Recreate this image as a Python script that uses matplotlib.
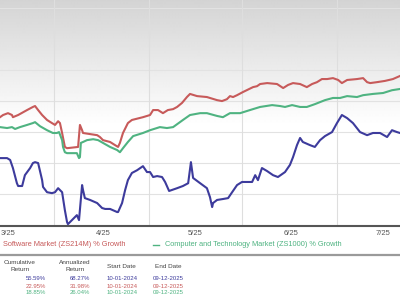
import numpy as np
import matplotlib
matplotlib.use("Agg")
import matplotlib.pyplot as plt

plt.rcParams['font.family'] = ['Liberation Sans', 'DejaVu Sans']

# ---- data (x = days since 1 Mar 2025, y = % growth) ----
red_days = [-2.6,-1.6,0,1.3,1.6,3.3,6.2,8.1,8.8,9.8,11.1,12.7,14.3,15.3,16.3,16.9,17.6,18.5,19.2,22.8,23.4,24.1,24.4,29.0,29.9,30.9,33.2,34.8,35.8,36.4,37.4,39.0,40.3,43.9,46.2,47.2,48.8,50.4,52.0,53.7,55.0,56.6,58.2,59.2,61.5,64.7,68.0,69.6,71.2,72.2,73.2,74.5,76.4,79.7,81.0,82.0,84.3,87.5,89.5,91.1,92.7,95.0,97.2,98.9,100.5,102.1,103.8,105.7,107.4,108.6,110.3,113.5,115.5,116.8,117.8,120.0,122.6,125.2,127.5]
red_vals = [4.8,5.5,6.1,5.5,4.8,5.5,7.1,8.1,8.4,7.1,5.5,3.9,2.9,2.3,3.5,2.9,-0.3,-4.8,-5.2,-4.8,2.3,0.6,-0.3,-1.0,-1.6,-2.6,-3.2,-4.2,-4.8,-3.5,-0.3,2.9,3.9,4.8,5.5,7.1,7.1,6.1,7.1,7.4,8.1,9.4,11.3,12.3,11.6,11.3,10.3,10.0,10.6,11.6,11.3,11.9,12.9,14.5,14.8,15.5,15.8,15.5,14.2,15.2,15.8,15.5,14.5,15.5,16.1,17.1,17.1,17.4,16.8,15.8,16.8,17.1,17.4,16.1,15.8,16.1,16.5,17.1,18.1]

green_days = [-2.6,-0.3,1.3,2.3,3.9,6.2,8.1,8.8,10.4,12.7,14.6,15.9,16.6,17.6,17.9,18.5,19.2,22.4,23.1,23.4,23.7,24.4,25.7,27.7,29.3,30.9,33.2,35.5,36.4,37.4,39.0,40.7,43.9,46.2,49.4,51.7,53.7,56.9,59.2,62.5,64.7,68.0,69.9,72.2,75.5,78.7,82.0,85.9,88.5,90.1,92.4,95.0,97.2,99.8,103.1,105.7,108.0,110.3,113.5,115.5,118.7,122.0,124.9,127.5]
green_vals = [1.6,1.3,1.6,1.0,1.6,2.3,2.9,3.2,1.9,0.6,-0.3,-0.3,0,-2.6,-4.8,-6.5,-6.8,-6.8,-8.4,-8.1,-3.5,-3.2,-2.6,-2.3,-2.6,-3.5,-4.8,-5.8,-6.5,-5.2,-3.2,-1.3,-0.3,0.6,1.6,1.3,1.6,3.9,5.5,6.1,6.1,5.2,4.8,6.1,6.1,7.1,8.1,8.7,8.4,8.1,8.7,8.1,8.1,9.0,10.3,11.0,11.0,11.6,11.3,11.9,12.3,12.6,13.5,13.9]

blue_days = [-2.6,-0.3,0.7,1.6,2.9,3.3,4.6,5.5,7.2,8.1,8.8,9.8,11.1,11.4,12.7,14.3,15.3,16.3,17.6,18.5,19.2,19.5,20.8,21.8,22.4,22.8,23.1,24.1,24.4,25.0,26.7,29.0,30.6,31.6,33.2,35.5,35.8,37.1,38.1,39.0,40.3,42.0,43.9,45.2,46.2,47.2,48.5,50.1,51.1,52.4,55.0,56.9,58.6,59.5,60.2,62.5,64.7,65.7,66.4,66.7,68.0,69.9,71.6,72.9,74.5,76.1,79.4,80.4,81.3,82.6,84.3,86.2,87.8,90.1,91.7,92.7,94.0,95.0,95.9,98.2,99.8,101.5,103.1,105.4,107.0,108.6,110.3,112.2,114.5,116.8,118.7,121.0,123.3,124.9,126.5,127.5]
blue_vals = [-8.4,-8.4,-9.0,-11.6,-16.5,-17.4,-17.4,-13.9,-11.6,-10.0,-9.7,-10.0,-15.5,-17.7,-19.4,-19.7,-19.4,-18.1,-19.4,-25.2,-29.0,-29.7,-28.4,-27.4,-26.8,-27.7,-28.4,-17.1,-18.7,-21.3,-21.9,-22.9,-24.5,-24.8,-24.8,-25.8,-25.8,-22.9,-18.7,-15.5,-13.2,-12.3,-11.0,-12.9,-12.9,-14.5,-14.2,-14.5,-16.1,-19.0,-18.1,-17.4,-16.5,-9.7,-14.8,-16.5,-18.1,-21.0,-24.2,-22.9,-21.9,-21.6,-21.3,-19.4,-17.1,-16.1,-16.1,-13.9,-15.5,-11.6,-12.6,-13.9,-14.5,-12.9,-10.6,-8.1,-4.2,-1.9,-3.2,-4.2,-4.8,-2.6,-1.3,0,2.9,5.5,4.5,2.9,0,-1.0,-0.3,-0.3,-1.6,0.6,0,-0.3]

tick_days = [0, 31, 61, 92, 122]
tick_labels = ["3/25", "4/25", "5/25", "6/25", "7/25"]
vgrid_days = [15, 46, 76, 107]
hgrid_vals = [-20, -10, 0, 10, 20, 30, 40]

legend_red = "Software Market (ZS214M) % Growth"
legend_green = "Computer and Technology Market (ZS1000) % Growth"

headers = ["Cumulative\nReturn", "Annualized\nReturn", "Start Date", "End Date"]
cum_returns = ["55.59%", "22.95%", "18.85%"]
ann_returns = ["68.27%", "31.98%", "26.04%"]
start_dates = ["10-01-2024", "10-01-2024", "10-01-2024"]
end_dates = ["09-12-2025", "09-12-2025", "09-12-2025"]

RED = "#c75a5a"
GREEN = "#4fb381"
BLUE = "#3d3b9c"
row_colors = [BLUE, RED, GREEN]

fig = plt.figure(figsize=(4, 3), dpi=100)
fig.patch.set_facecolor("white")
ax = fig.add_axes([0, 74/300, 1, 226/300])
xmin, xmax = -2.6, 127.5
ymin, ymax = -30.3, 42.6
ax.set_xlim(xmin, xmax)
ax.set_ylim(ymin, ymax)

# background gradient (gray at top fading to white)
n = 226
rows = np.arange(n)
shade = np.clip(0.83 + 0.17 * rows / 125.0, 0, 1)
grad = np.repeat(shade[:, None], 2, axis=1)
ax.imshow(grad, extent=[xmin, xmax, ymin, ymax], aspect='auto', cmap='gray',
          vmin=0, vmax=1, zorder=0, interpolation='bilinear')

for v in hgrid_vals:
    ax.axhline(v, color="#e2e2e2", lw=0.8, zorder=1)
for d in vgrid_days:
    ax.axvline(d, color="#dedede", lw=0.8, zorder=1)

ax.plot(red_days, red_vals, color=RED, lw=1.5, zorder=3, solid_joinstyle='round')
ax.plot(green_days, green_vals, color=GREEN, lw=1.5, zorder=3, solid_joinstyle='round')
ax.plot(blue_days, blue_vals, color=BLUE, lw=1.5, zorder=4, solid_joinstyle='round')

for s in ["top", "right", "left"]:
    ax.spines[s].set_visible(False)
ax.spines["bottom"].set_color("#555555")
ax.spines["bottom"].set_linewidth(1.5)
ax.set_yticks([])
ax.set_xticks(tick_days)
ax.set_xticklabels(tick_labels, fontsize=5.5, color="#555555")
ax.tick_params(axis='x', length=0, pad=3)

# legend row
fig.text(3/400, 1 - 245/300, legend_red, color=RED, fontsize=5.3, va='center', ha='left')
fig.add_artist(plt.Line2D([153/400, 159/400], [1 - 245/300] * 2, color=GREEN, lw=1.0))
fig.text(165/400, 1 - 245/300, legend_green, color=GREEN, fontsize=5.3, va='center', ha='left')

# separator line
fig.add_artist(plt.Line2D([0, 1], [1 - 255/300] * 2, color="#9a9a9a", lw=1.6))

# table
hx = [20, 75, 121, 168]
for x, h in zip(hx, headers):
    fig.text(x/400, 1 - 266/300, h, fontsize=4.6, color="#444444", ha='center', va='center',
             linespacing=1.5)
row_y = [279, 286, 292]
for i, y in enumerate(row_y):
    c = row_colors[i]
    fig.text(36/400, 1 - y/300, cum_returns[i], fontsize=4.3, color=c, ha='center', va='center')
    fig.text(80/400, 1 - y/300, ann_returns[i], fontsize=4.3, color=c, ha='center', va='center')
    fig.text(122/400, 1 - y/300, start_dates[i], fontsize=4.3, color=c, ha='center', va='center')
    fig.text(168/400, 1 - y/300, end_dates[i], fontsize=4.3, color=c, ha='center', va='center')

fig.savefig("out.png", dpi=100)
